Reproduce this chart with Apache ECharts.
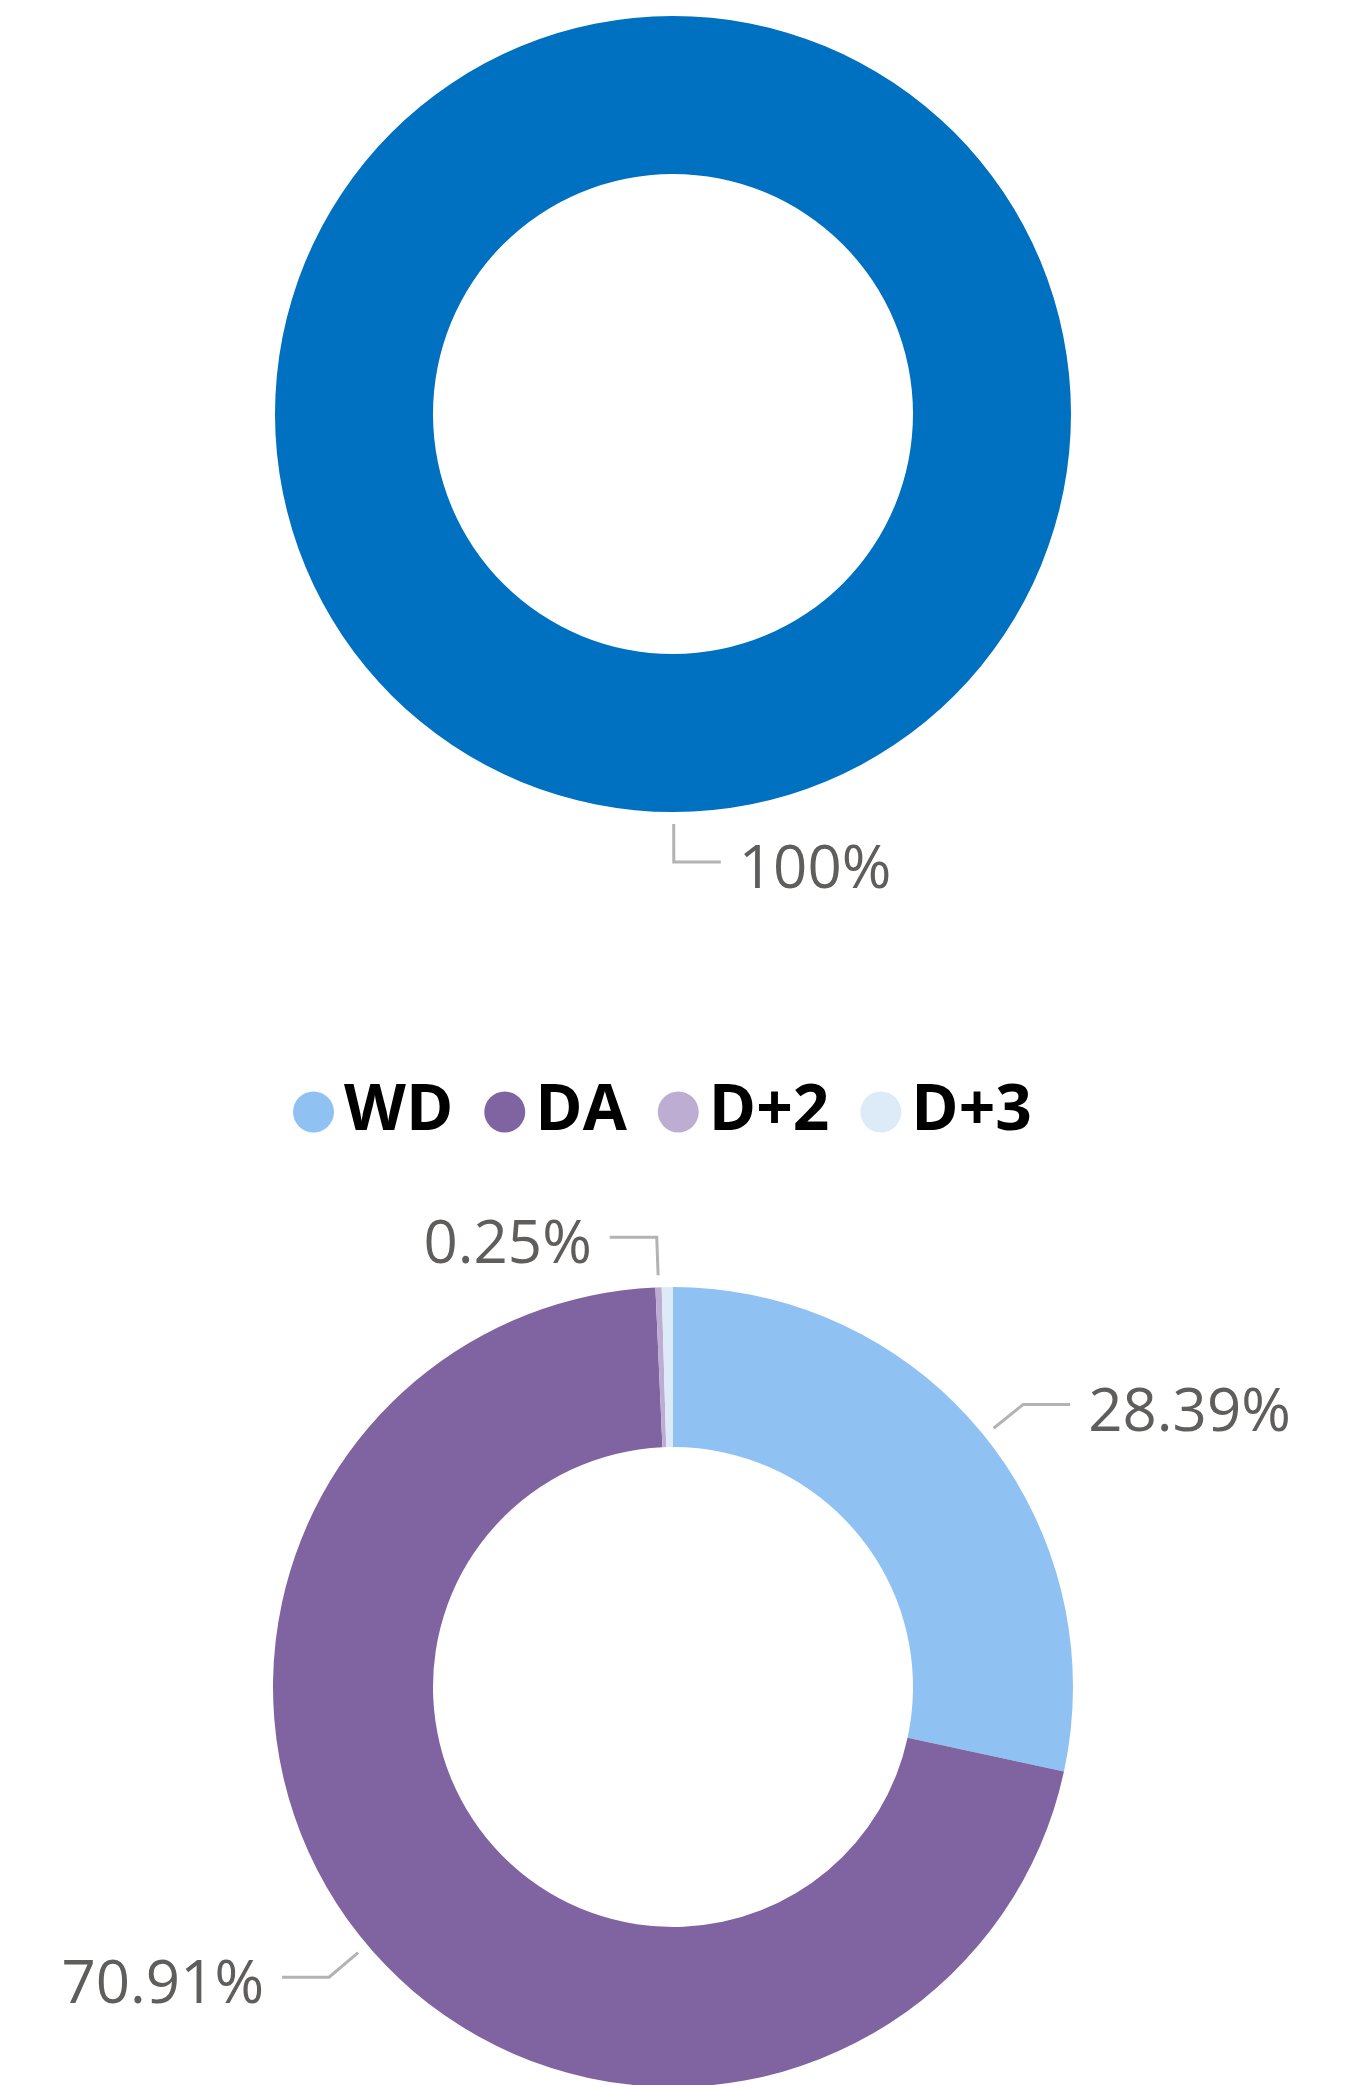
<!DOCTYPE html>
<html>
<head>
<meta charset="utf-8">
<script src="https://cdn.jsdelivr.net/npm/echarts@6/dist/echarts.min.js"></script>
<style>
  html, body { margin: 0; padding: 0; background: #fff; }
  #chart { width: 1370px; height: 2085px; }
</style>
</head>
<body>
<div id="chart"></div>
<script>
// top donut: a single slice
const topNames = ['Total']
const topValues = [100]
const topColors = ['#0070C0']

// bottom donut
const categories = ['WD', 'DA', 'D+2', 'D+3']
const shares = [28.39, 70.91, 0.25, 0.45]
const sliceColors = ['#8FC1F2', '#8064A2', '#BDADD2', '#DDEAF7']
const hiddenLabels = ['D+3']

const labelStyle = {
  show: true,
  position: 'outside',
  fontFamily: 'Open Sans',
  fontSize: 60,
  color: '#605E5C',
  distanceToLabelLine: 18,
}

const lineStyle = {
  show: true,
  length: 50,
  length2: 47,
  smooth: false,
  lineStyle: { color: '#B3B3B3', width: 3 },
}

// pull the start of each leader line a little away from the ring,
// and sit the text slightly lower against the line
const pushOutLine = (params) => {
  const pts = params.labelLinePoints
  if (!pts) return { dy: 9 }
  const a = pts[0], b = pts[1]
  const dx = b[0] - a[0], dy = b[1] - a[1]
  const d = Math.hypot(dx, dy) || 1
  const k = 12 / d
  return {
    dy: 9,
    labelLinePoints: [[a[0] + dx * k, a[1] + dy * k], b, pts[2]],
  }
}

const fmtPct = (p) => (p.value === 100 ? '100' : p.value.toFixed(2)) + '%'

const chart = echarts.init(document.getElementById('chart'))

chart.setOption({
  animation: false,
  legend: {
    data: categories,
    top: 1075,
    left: 288,
    icon: 'circle',
    itemWidth: 41,
    itemHeight: 41,
    itemGap: 31,
    selectedMode: false,
    textStyle: {
      fontFamily: 'Open Sans',
      fontWeight: 'bold',
      fontSize: 64,
      lineHeight: 64,
      color: '#000',
      padding: [0, 0, 0, 5],
    },
  },
  series: [
    {
      type: 'pie',
      center: [673, 414],
      radius: [240, 398],
      startAngle: 90.1,
      clockwise: true,
      silent: true,
      label: { ...labelStyle, formatter: fmtPct },
      labelLine: lineStyle,
      labelLayout: pushOutLine,
      data: topNames.map((n, i) => ({
        name: n,
        value: topValues[i],
        itemStyle: { color: topColors[i] },
      })),
    },
    {
      type: 'pie',
      center: [673, 1687],
      radius: [240, 400],
      startAngle: 90,
      clockwise: true,
      silent: true,
      avoidLabelOverlap: false,
      label: { ...labelStyle, formatter: fmtPct },
      labelLine: lineStyle,
      labelLayout: pushOutLine,
      data: categories.map((n, i) => {
        const hide = hiddenLabels.includes(n)
        return {
          name: n,
          value: shares[i],
          itemStyle: { color: sliceColors[i] },
          label: { show: !hide },
          labelLine: { show: !hide },
        }
      }),
    },
  ],
})
</script>
</body>
</html>
